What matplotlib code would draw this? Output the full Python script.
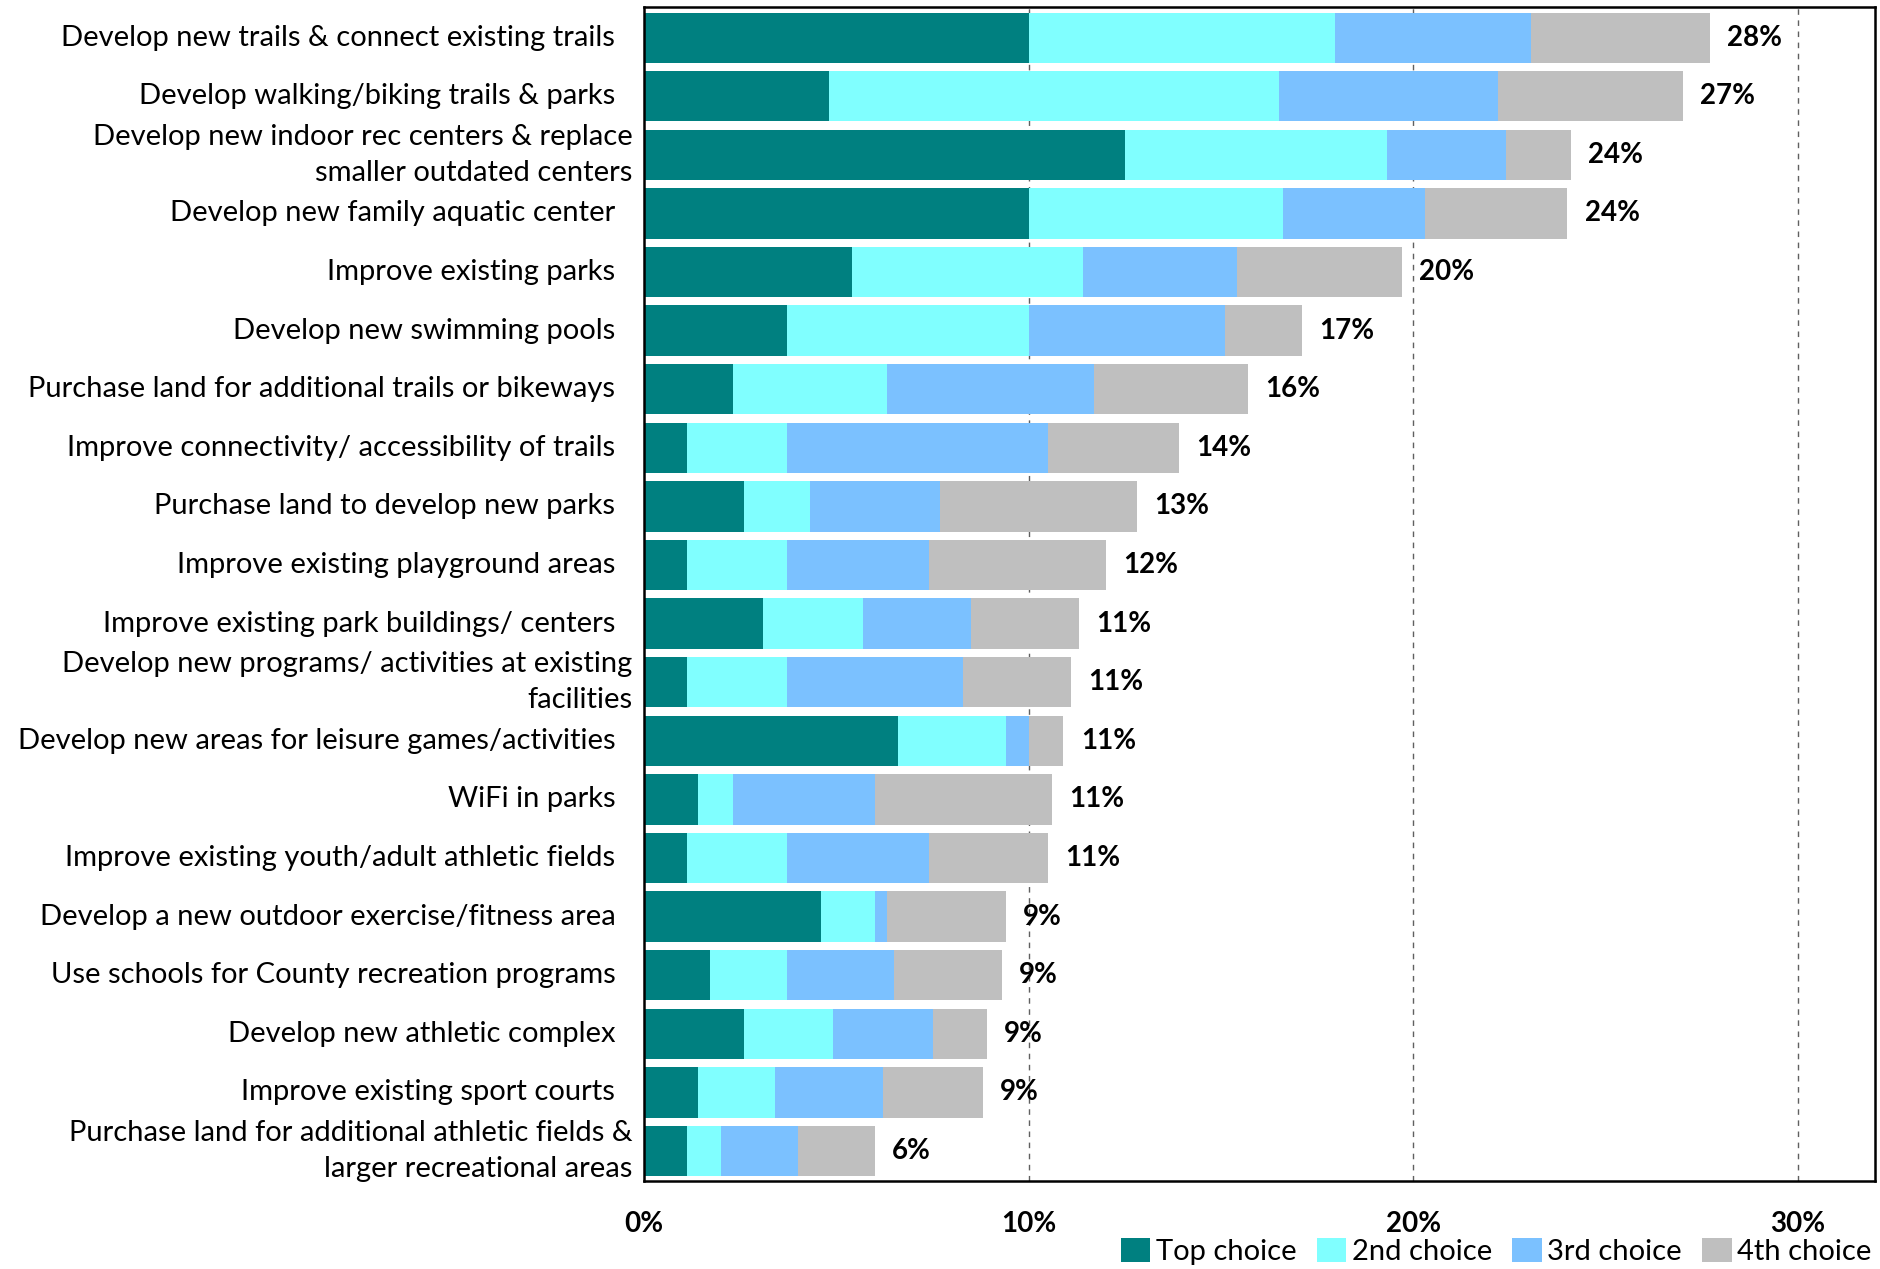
import numpy as np
import matplotlib.pyplot as plt
from matplotlib.patches import Patch

plt.rcParams['font.family'] = ['Lato', 'DejaVu Sans']

# categories, top to bottom
categories = [
    "Develop new trails & connect existing trails",
    "Develop walking/biking trails & parks",
    "Develop new indoor rec centers & replace\nsmaller outdated centers",
    "Develop new family aquatic center",
    "Improve existing parks",
    "Develop new swimming pools",
    "Purchase land for additional trails or bikeways",
    "Improve connectivity/ accessibility of trails",
    "Purchase land to develop new parks",
    "Improve existing playground areas",
    "Improve existing park buildings/ centers",
    "Develop new programs/ activities at existing\nfacilities",
    "Develop new areas for leisure games/activities",
    "WiFi in parks",
    "Improve existing youth/adult athletic fields",
    "Develop a new outdoor exercise/fitness area",
    "Use schools for County recreation programs",
    "Develop new athletic complex",
    "Improve existing sport courts",
    "Purchase land for additional athletic fields &\nlarger recreational areas",
]

# percentages per choice
top_choice = [10.0, 4.8, 12.5, 10.0, 5.4, 3.7, 2.3, 1.1, 2.6, 1.1,
              3.1, 1.1, 6.6, 1.4, 1.1, 4.6, 1.7, 2.6, 1.4, 1.1]
second_choice = [7.95, 11.7, 6.8, 6.6, 6.0, 6.3, 4.0, 2.6, 1.7, 2.6,
                 2.6, 2.6, 2.8, 0.9, 2.6, 1.4, 2.0, 2.3, 2.0, 0.9]
third_choice = [5.1, 5.7, 3.1, 3.7, 4.0, 5.1, 5.4, 6.8, 3.4, 3.7,
                2.8, 4.6, 0.6, 3.7, 3.7, 0.3, 2.8, 2.6, 2.8, 2.0]
fourth_choice = [4.65, 4.8, 1.7, 3.7, 4.3, 2.0, 4.0, 3.4, 5.1, 4.6,
                 2.8, 2.8, 0.9, 4.6, 3.1, 3.1, 2.8, 1.4, 2.6, 2.0]
total_labels = [28, 27, 24, 24, 20, 17, 16, 14, 13, 12,
                11, 11, 11, 11, 11, 9, 9, 9, 9, 6]

series = [top_choice, second_choice, third_choice, fourth_choice]
names = ["Top choice", "2nd choice", "3rd choice", "4th choice"]
colors = ["#008080", "#80FFFF", "#7BC1FF", "#BFBFBF"]

fig = plt.figure(figsize=(18.81, 12.69), dpi=100)
ax = fig.add_axes([0.3425, 0.069, 0.6543, 0.9253])

y = np.arange(len(categories))
left = np.zeros(len(categories))
for vals, col in zip(series, colors):
    ax.barh(y, vals, left=left, height=0.86, color=col, zorder=2)
    left = left + np.array(vals)

# total labels
for yi, tot, lab in zip(y, left, total_labels):
    ax.text(tot + 0.45, yi, f"{lab}%", va='center', ha='left',
            fontsize=20, fontweight='bold', zorder=3)

ax.set_xlim(0, 32)
ax.set_ylim(len(categories) - 0.48, -0.52)
ax.set_xticks([0, 10, 20, 30])
ax.set_xticklabels(["0%", "10%", "20%", "30%"], fontsize=20, fontweight='bold')
ax.tick_params(axis='x', length=0, pad=21)
ax.set_yticks([])
for xv in [10, 20, 30]:
    ax.axvline(xv, color='#606060', linestyle=(0, (4, 4)), linewidth=1.0, zorder=1)

for sp in ax.spines.values():
    sp.set_linewidth(1.8)

# category labels (single-line ones sit a bit further left, as in the original)
ytrans = ax.get_yaxis_transform()
for yi, cat in zip(y, categories):
    xoff = -0.0095 if "\n" in cat else -0.0235
    ax.text(xoff, yi, cat, transform=ytrans, ha='right', va='center',
            fontsize=21, multialignment='right', linespacing=1.5)

handles = [Patch(facecolor=c, label=n) for c, n in zip(colors, names)]
fig.legend(handles=handles, loc='lower right', bbox_to_anchor=(1.006, -0.013),
           ncol=4, frameon=False, fontsize=21, handlelength=1.0,
           handleheight=0.9, handletextpad=0.2, columnspacing=0.7,
           borderaxespad=0.3)

fig.savefig("out.png", dpi=100)
